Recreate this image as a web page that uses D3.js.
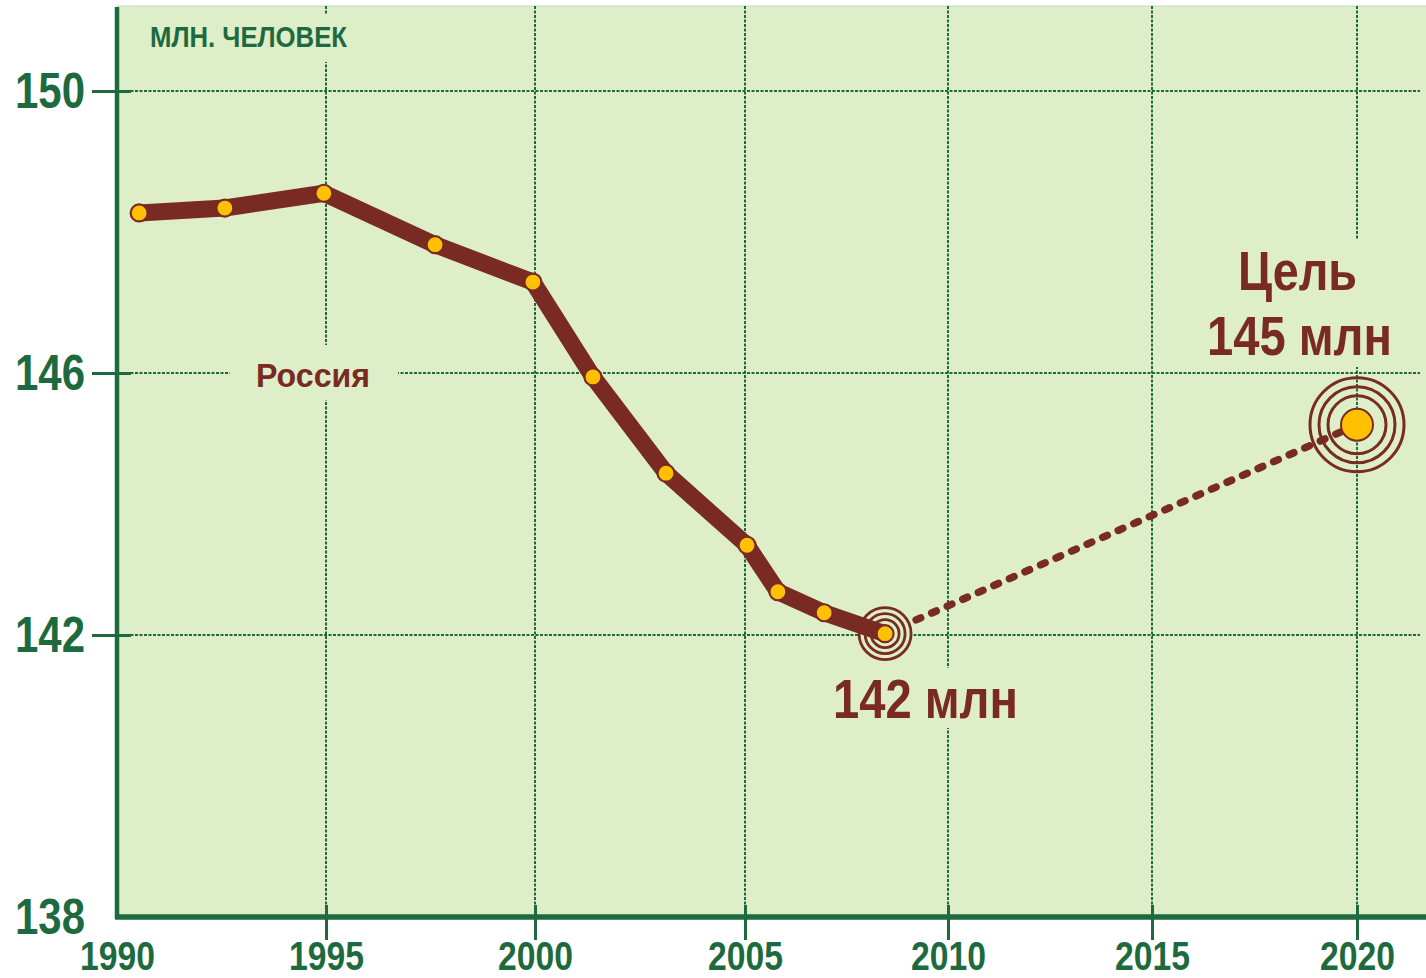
<!DOCTYPE html>
<html><head><meta charset="utf-8">
<script src="https://cdn.jsdelivr.net/npm/d3@7"></script>
<style>
body{margin:0;background:#fff;}
text{font-family:"Liberation Sans Narrow","Arial Narrow","Liberation Sans",Arial,sans-serif;}
</style>
</head><body>
<svg id="c" width="1426" height="978"></svg>
<script>
// ---- data ----
const years = [1990.53, 1992.58, 1994.95, 1997.61, 1999.95, 2001.38, 2003.12, 2005.05, 2005.81, 2006.95, 2008.45];
const population = [148.27, 148.34, 148.55, 147.82, 147.29, 145.94, 144.47, 143.37, 142.66, 142.34, 142.02];
const targetYear = [2020];
const targetValue = [145.21];
const xTicks = [1990, 1995, 2000, 2005, 2010, 2015, 2020];
const yTicks = [138, 142, 146, 150];
const unitLabel = "МЛН. ЧЕЛОВЕК";
const seriesLabel = "Россия";
const currentLabel = "142 млн";
const targetLabel = ["Цель", "145 млн"];

// ---- style ----
const BG = "#ddeec9", GREEN = "#1d6a3e", BROWN = "#792b23", ORANGE = "#ffc000";
const svg = d3.select("#c");
const L = 117, R = 1426, T = 6, B = 917;

const x = d3.scaleLinear().domain(xTicks).range([117, 326, 535, 745, 948, 1152, 1357]);
const y = d3.scaleLinear().domain(yTicks).range([917, 635, 373, 91]);

svg.append("rect").attr("x", L).attr("y", T).attr("width", R - L).attr("height", B - T).attr("fill", BG);
svg.append("line").attr("x1", L).attr("x2", R).attr("y1", T).attr("y2", T).attr("stroke", "#c9d6c0").attr("stroke-width", 1);

// grid
const grid = svg.append("g").attr("stroke", GREEN).attr("stroke-width", 2).attr("stroke-dasharray", "3,1.5");
grid.selectAll(".gy").data(yTicks.slice(1)).join("line")
  .attr("x1", L).attr("x2", 1420).attr("y1", d => y(d)).attr("y2", d => y(d));
grid.selectAll(".gx").data(xTicks.slice(1)).join("line")
  .attr("x1", d => x(d)).attr("x2", d => x(d)).attr("y1", T).attr("y2", B);

// label halos (gaps in grid)
function halo(x0, y0, x1, y1) {
  svg.append("rect").attr("x", x0).attr("y", y0).attr("width", x1 - x0).attr("height", y1 - y0).attr("fill", BG);
}
halo(140, 15, 355, 62);
halo(230, 345, 398, 400);
halo(826, 668, 1026, 728);
halo(1200, 240, 1400, 367);

// projection (dotted)
const proj = [[years[years.length - 1], population[population.length - 1]], [targetYear[0], targetValue[0]]];
svg.append("path").datum(proj)
  .attr("d", d3.line().x(d => x(d[0])).y(d => y(d[1])))
  .attr("fill", "none").attr("stroke", BROWN).attr("stroke-width", 7.5)
  .attr("stroke-dasharray", "5,12").attr("stroke-linecap", "round");

// rings at current point
const cur = [x(years[years.length - 1]), y(population[population.length - 1])];
svg.selectAll(".r1").data([26, 20, 14]).join("circle")
  .attr("cx", cur[0]).attr("cy", cur[1]).attr("r", d => d)
  .attr("fill", BG).attr("stroke", BROWN).attr("stroke-width", 2.8);

// main line
const pts = years.map((d, i) => [d, population[i]]);
svg.append("path").datum(pts)
  .attr("d", d3.line().x(d => x(d[0])).y(d => y(d[1])))
  .attr("fill", "none").attr("stroke", BROWN).attr("stroke-width", 17)
  .attr("stroke-linejoin", "round").attr("stroke-linecap", "butt");

svg.selectAll(".pt").data(pts).join("circle")
  .attr("cx", d => x(d[0])).attr("cy", d => y(d[1]))
  .attr("r", 8.5)
  .attr("fill", ORANGE).attr("stroke", BROWN).attr("stroke-width", 2.2);

// target rings
const tg = [x(targetYear[0]), y(targetValue[0])];
svg.selectAll(".r2").data([47, 38, 29]).join("circle")
  .attr("cx", tg[0]).attr("cy", tg[1]).attr("r", d => d)
  .attr("fill", "none").attr("stroke", BROWN).attr("stroke-width", 3);
svg.append("circle").attr("cx", tg[0]).attr("cy", tg[1]).attr("r", 16)
  .attr("fill", ORANGE).attr("stroke", BROWN).attr("stroke-width", 2);

// axes
const yAxis = d3.axisLeft(y).tickValues(yTicks).tickSize(25).tickPadding(7).tickFormat(d3.format("d"));
const gy = svg.append("g").attr("transform", `translate(${L},0)`).call(yAxis);
gy.select(".domain").remove();
gy.selectAll(".tick line").attr("stroke", GREEN).attr("stroke-width", 3).attr("x1", 14)
  .filter(d => d === yTicks[0]).remove();
gy.selectAll(".tick text").attr("fill", GREEN).attr("font-size", 50).attr("font-weight", "bold")
  .attr("textLength", 70).attr("lengthAdjust", "spacingAndGlyphs");

const xAxis = d3.axisBottom(x).tickValues(xTicks).tickSize(23).tickPadding(2).tickFormat(d3.format("d"));
const gx = svg.append("g").attr("transform", `translate(0,${B})`).call(xAxis);
gx.select(".domain").remove();
gx.selectAll(".tick line").attr("stroke", GREEN).attr("stroke-width", 3).attr("y1", -12)
  .filter(d => d === xTicks[0]).remove();
gx.selectAll(".tick text").attr("fill", GREEN).attr("font-size", 40).attr("font-weight", "bold")
  .attr("textLength", 75).attr("lengthAdjust", "spacingAndGlyphs");

svg.append("line").attr("x1", L).attr("x2", L).attr("y1", T + 1).attr("y2", B + 2)
  .attr("stroke", GREEN).attr("stroke-width", 4.5);
svg.append("line").attr("x1", L - 2).attr("x2", R).attr("y1", B).attr("y2", B)
  .attr("stroke", GREEN).attr("stroke-width", 5.5);

// texts
function label(t, x0, by, size, color, w) {
  svg.append("text").attr("x", x0).attr("y", by).text(t)
    .attr("font-size", size).attr("font-weight", "bold").attr("fill", color)
    .attr("textLength", w).attr("lengthAdjust", "spacingAndGlyphs");
}
label(unitLabel, 150, 47, 30, GREEN, 197);
label(seriesLabel, 256, 387, 33, BROWN, 114);
label(currentLabel, 833, 718, 56, BROWN, 185);
label(targetLabel[0], 1238, 290, 56, BROWN, 119);
label(targetLabel[1], 1207, 355, 56, BROWN, 185);
</script>
</body></html>
